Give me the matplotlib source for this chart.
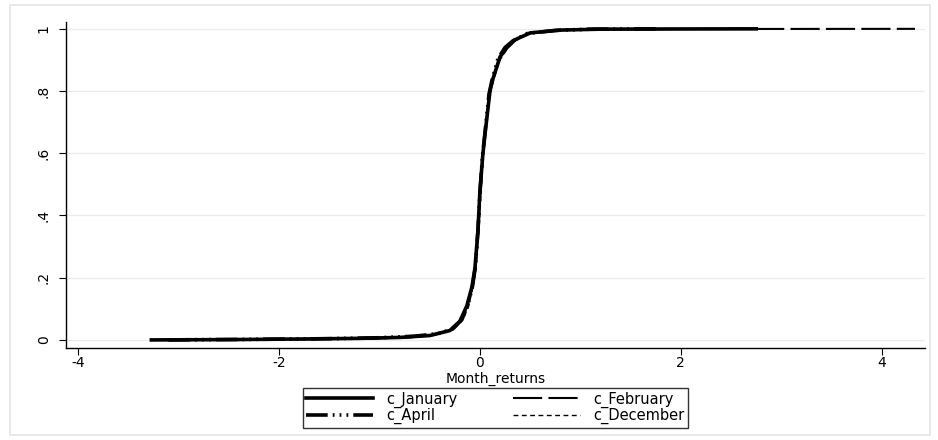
import matplotlib
matplotlib.use("Agg")
import matplotlib.pyplot as plt
from matplotlib.patches import Rectangle

plt.rcParams["font.family"] = ["DejaVu Sans"]

jan_x = [-3.27, -2.5, -1.75, -1.2, -0.8, -0.5, -0.3, -0.2, -0.13, -0.08, -0.05,
         -0.02, 0.0, 0.03, 0.05, 0.1, 0.13, 0.2, 0.27, 0.35, 0.5, 0.8, 1.2, 1.8, 2.75]
jan_y = [0.0, 0.001, 0.003, 0.005, 0.008, 0.014, 0.03, 0.06, 0.11, 0.17, 0.23,
         0.35, 0.48, 0.6, 0.66, 0.8, 0.84, 0.91, 0.94, 0.965, 0.987, 0.996, 0.999, 0.9995, 1.0]

feb_x = [-2.6, -1.8, -1.1, -0.7, -0.45, -0.28, -0.19, -0.12, -0.07, -0.04,
         -0.015, 0.005, 0.035, 0.055, 0.1, 0.14, 0.21, 0.28, 0.37, 0.52, 0.85, 1.3, 2.0, 4.33]
feb_y = [0.0, 0.002, 0.004, 0.008, 0.016, 0.033, 0.065, 0.115, 0.175, 0.24,
         0.36, 0.49, 0.61, 0.67, 0.8, 0.85, 0.915, 0.945, 0.968, 0.988, 0.997, 0.999, 0.9995, 1.0]

apr_x = [-3.1, -2.2, -1.5, -1.0, -0.65, -0.42, -0.27, -0.18, -0.12, -0.075, -0.045,
         -0.02, 0.0, 0.025, 0.045, 0.09, 0.12, 0.18, 0.25, 0.33, 0.47, 0.75, 1.1, 1.8]
apr_y = [0.0, 0.002, 0.004, 0.007, 0.012, 0.02, 0.035, 0.065, 0.11, 0.17, 0.235,
         0.35, 0.47, 0.59, 0.65, 0.79, 0.835, 0.905, 0.94, 0.962, 0.985, 0.995, 0.999, 1.0]

dec_x = [-2.9, -2.0, -1.4, -0.95, -0.6, -0.4, -0.26, -0.17, -0.11, -0.07, -0.04,
         -0.01, 0.01, 0.035, 0.055, 0.1, 0.14, 0.2, 0.28, 0.36, 0.5, 0.8, 1.15, 1.75]
dec_y = [0.0, 0.002, 0.004, 0.007, 0.012, 0.02, 0.035, 0.065, 0.11, 0.17, 0.235,
         0.35, 0.47, 0.6, 0.66, 0.79, 0.84, 0.9, 0.94, 0.963, 0.985, 0.995, 0.999, 1.0]

fig = plt.figure(figsize=(9.38, 4.40), dpi=100)
fig.patches.append(Rectangle((10 / 938, 1 - 435 / 440), 920 / 938, 430 / 440,
                             transform=fig.transFigure, fill=False,
                             edgecolor="#e4e4e4", linewidth=1.2))
ax = fig.add_axes([66 / 938, 1 - 348 / 440, (925 - 66) / 938, (348 - 22) / 440])

for y in [0, 0.2, 0.4, 0.6, 0.8, 1.0]:
    ax.axhline(y, color="#ececec", linewidth=1.0, zorder=0)

l_jan, = ax.plot(jan_x, jan_y, color="black", linewidth=2.6, label="c_January")
l_feb, = ax.plot(feb_x, feb_y, color="black", linewidth=1.5,
                 linestyle=(0, (14, 3)), label="c_February")
l_apr, = ax.plot(apr_x, apr_y, color="black", linewidth=2.6,
                 linestyle=(0, (6, 1.4, 0.5, 1.4, 0.5, 1.4, 0.5, 1.4)), label="c_April")
l_dec, = ax.plot(dec_x, dec_y, color="black", linewidth=1.0,
                 linestyle=(0, (3.5, 2.5)), label="c_December")

ax.set_xlim(-4.12, 4.43)
ax.set_ylim(-0.026, 1.022)
ax.set_xticks([-4, -2, 0, 2, 4])
ax.set_xticklabels(["-4", "-2", "0", "2", "4"])
ax.set_yticks([0, 0.2, 0.4, 0.6, 0.8, 1.0])
ax.set_yticklabels(["0", ".2", ".4", ".6", ".8", "1"], rotation=90, va="center")
ax.tick_params(direction="out", length=5, width=0.8, labelsize=10)
ax.tick_params(axis="y", pad=6)
ax.tick_params(axis="x", pad=1)

for s in ["top", "right"]:
    ax.spines[s].set_visible(False)
for s in ["left", "bottom"]:
    ax.spines[s].set_linewidth(1.0)

ax.set_xlabel("Month_returns", fontsize=10, labelpad=1)

# row-wise order: January, February / April, December
leg = ax.legend([l_jan, l_apr, l_feb, l_dec],
                ["c_January", "c_April", "c_February", "c_December"],
                loc="upper center", bbox_to_anchor=(0.5, -0.1), ncol=2,
                fontsize=10.5, handlelength=4.6, handletextpad=0.9, columnspacing=3.8,
                frameon=True, fancybox=False, edgecolor="black", borderpad=0.25,
                labelspacing=0.0)
leg.get_frame().set_linewidth(1.0)

fig.savefig("out.png", dpi=100)
